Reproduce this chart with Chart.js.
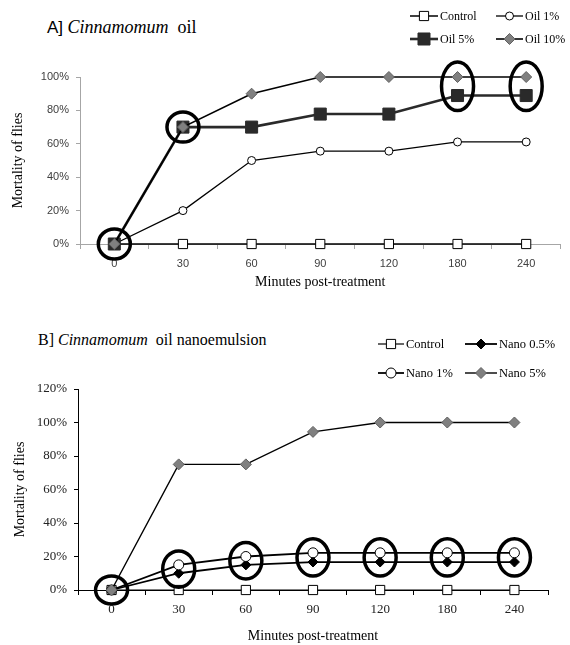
<!DOCTYPE html>
<html>
<head>
<meta charset="utf-8">
<script src="https://cdn.jsdelivr.net/npm/chart.js@4.4.1/dist/chart.umd.min.js"></script>
<style>
  html, body { margin: 0; padding: 0; background: #fff; }
  body { width: 570px; height: 645px; position: relative; overflow: hidden; }
  canvas { position: absolute; left: 0; }
  #cA { top: 0; }
  #cB { top: 305px; }
  .ttl { position: absolute; white-space: pre; color: #000; font-family: "Liberation Serif", serif; }
  #tA { left: 47px; top: 18px; font-size: 18px; line-height: 18px; }
  #tA .lab { font-family: "Liberation Sans", sans-serif; font-size: 17px; }
  #tB { left: 38px; top: 332px; font-size: 16px; line-height: 16px; }
  i { font-style: italic; }
</style>
</head>
<body>
<div class="ttl" id="tA"><span class="lab">A]</span> <i>Cinnamomum</i>  oil</div>
<div class="ttl" id="tB">B] <i>Cinnamomum</i>  oil nanoemulsion</div>
<canvas id="cA" width="570" height="305"></canvas>
<canvas id="cB" width="570" height="340"></canvas>
<script>
// ---------- data ----------
const categories = ['0', '30', '60', '90', '120', '180', '240'];

const seriesNamesA = ['Control', 'Oil 1%', 'Oil 5%', 'Oil 10%'];
const controlA = [0, 0, 0, 0, 0, 0, 0];
const oil1 = [0, 20, 50, 55.6, 55.6, 61.1, 61.1];
const oil5 = [0, 70, 70, 77.8, 77.8, 88.9, 88.9];
const oil10 = [0, 70, 90, 100, 100, 100, 100];
const yTicksA = [0, 20, 40, 60, 80, 100];

const seriesNamesB = ['Control', 'Nano 0.5%', 'Nano 1%', 'Nano 5%'];
const controlB = [0, 0, 0, 0, 0, 0, 0];
const nano05 = [0, 10, 15, 16.7, 16.7, 16.7, 16.7];
const nano1 = [0, 15, 20, 22.2, 22.2, 22.2, 22.2];
const nano5 = [0, 75, 75, 94.4, 100, 100, 100];
const yTicksB = [0, 20, 40, 60, 80, 100, 120];

// highlighted points (category, series circled)
const ringsA = [
  { at: '0', around: ['Oil 10%'] },
  { at: '30', around: ['Oil 5%', 'Oil 10%'] },
  { at: '180', around: ['Oil 5%', 'Oil 10%'] },
  { at: '240', around: ['Oil 5%', 'Oil 10%'] }
];
const ringsB = [
  { at: '0', around: ['Nano 5%'] },
  { at: '30', around: ['Nano 0.5%', 'Nano 1%'] },
  { at: '60', around: ['Nano 0.5%', 'Nano 1%'] },
  { at: '90', around: ['Nano 0.5%', 'Nano 1%'] },
  { at: '120', around: ['Nano 0.5%', 'Nano 1%'] },
  { at: '180', around: ['Nano 0.5%', 'Nano 1%'] },
  { at: '240', around: ['Nano 0.5%', 'Nano 1%'] }
];

// ---------- helpers ----------
function drawMarker(ctx, style, r, x, y, fill, stroke, bw) {
  ctx.save();
  ctx.beginPath();
  if (style === 'rect') {
    const s = Math.SQRT1_2 * r;
    ctx.rect(x - s, y - s, 2 * s, 2 * s);
  } else if (style === 'rectRot') {
    ctx.moveTo(x - r, y); ctx.lineTo(x, y - r); ctx.lineTo(x + r, y); ctx.lineTo(x, y + r); ctx.closePath();
  } else {
    ctx.arc(x, y, r, 0, Math.PI * 2);
  }
  ctx.fillStyle = fill; ctx.fill();
  ctx.lineWidth = bw; ctx.strokeStyle = stroke; ctx.stroke();
  ctx.restore();
}

const legendPlugin = {
  id: 'customLegend',
  afterDraw(chart, args, opts) {
    const ctx = chart.ctx;
    chart.data.datasets.forEach((ds, i) => {
      const x = opts.cols[i % 2];
      const y = opts.rows[Math.floor(i / 2)];
      const len = opts.lineLen[i % 2];
      ctx.save();
      ctx.beginPath();
      ctx.moveTo(x, y); ctx.lineTo(x + len, y);
      ctx.lineWidth = ds.borderWidth; ctx.strokeStyle = ds.borderColor; ctx.stroke();
      drawMarker(ctx, ds.pointStyle, ds.pointRadius * opts.markerScale, x + len / 2, y,
        ds.pointBackgroundColor, ds.pointBorderColor, ds.pointBorderWidth);
      ctx.fillStyle = '#000';
      ctx.font = opts.font;
      ctx.textBaseline = 'middle';
      ctx.textAlign = 'left';
      ctx.fillText(ds.label, x + len + 2, y + 1);
      ctx.restore();
    });
  }
};

const ringPlugin = {
  id: 'rings',
  afterDatasetsDraw(chart, args, opts) {
    const ctx = chart.ctx;
    const xs = chart.scales.x, ys = chart.scales.y;
    opts.rings.forEach(rg => {
      const idx = chart.data.labels.indexOf(rg.at);
      const px = xs.getPixelForValue(idx);
      const pys = rg.around.map(name => {
        const ds = chart.data.datasets.find(d => d.label === name);
        return ys.getPixelForValue(ds.data[idx]);
      });
      const top = Math.min(...pys), bot = Math.max(...pys);
      const cy = (top + bot) / 2;
      const ry = (bot - top) / 2 + opts.padY;
      ctx.save();
      ctx.beginPath();
      ctx.ellipse(px, cy, opts.padX, ry, 0, 0, Math.PI * 2);
      ctx.lineWidth = opts.width; ctx.strokeStyle = '#000'; ctx.stroke();
      ctx.restore();
    });
  }
};

function ds(label, data, o) {
  return Object.assign({
    label, data, clip: false, fill: false, tension: 0,
    borderColor: '#000', borderWidth: 1.5,
    pointBorderColor: '#000', pointBorderWidth: 1,
    pointHoverRadius: 0
  }, o);
}

function makeChart(id, cfg) {
  return new Chart(document.getElementById(id), {
    type: 'line',
    data: { labels: categories, datasets: cfg.datasets },
    plugins: [legendPlugin, ringPlugin],
    options: {
      responsive: false, animation: false, devicePixelRatio: 1,
      layout: { padding: cfg.padding },
      events: [],
      plugins: {
        legend: { display: false }, tooltip: { enabled: false }, title: { display: false },
        customLegend: cfg.legend,
        rings: cfg.rings
      },
      scales: {
        x: {
          type: 'category', offset: true,
          grid: { offset: true, drawOnChartArea: false, tickLength: 5, color: cfg.axisColor, lineWidth: 1 },
          border: { display: true, color: cfg.axisColor, width: 1 },
          ticks: { color: cfg.tickColor, font: cfg.tickFont, padding: cfg.xTickPad, maxRotation: 0, autoSkip: false },
          title: { display: true, text: 'Minutes post-treatment', color: '#000',
                   font: { family: 'Liberation Serif', size: 14 }, padding: { top: 0, bottom: cfg.xTitlePad } },
          afterFit: s => { s.height = cfg.xHeight; }
        },
        y: {
          min: 0, max: cfg.yMax,
          afterBuildTicks: s => { s.ticks = cfg.yTicks.map(v => ({ value: v })); },
          grid: { drawOnChartArea: false, tickLength: 4, color: cfg.axisColor, lineWidth: 1 },
          border: { display: true, color: cfg.axisColor, width: 1 },
          ticks: { color: cfg.tickColor, font: cfg.tickFont, padding: 7, callback: v => v + '%' },
          title: { display: true, text: 'Mortality of flies', color: '#000',
                   font: { family: 'Liberation Serif', size: 14 }, padding: { top: cfg.yTitlePad, bottom: 0 } },
          afterFit: s => { s.width = cfg.yWidth; }
        }
      }
    }
  });
}

// ---------- chart A ----------
makeChart('cA', {
  datasets: [
    ds(seriesNamesA[0], controlA, { pointStyle: 'rect', pointRadius: 6.5, pointBackgroundColor: '#fff', order: 3 }),
    ds(seriesNamesA[1], oil1, { pointStyle: 'circle', pointRadius: 4, pointBackgroundColor: '#fff', borderWidth: 1.3, order: 2 }),
    ds(seriesNamesA[2], oil5, { pointStyle: 'rect', pointRadius: 8.5, pointBackgroundColor: '#2a2a2a', pointBorderColor: '#2a2a2a', borderColor: '#2a2a2a', borderWidth: 2.6, order: 1 }),
    ds(seriesNamesA[3], oil10, { pointStyle: 'rectRot', pointRadius: 5.5, pointBackgroundColor: '#808080', pointBorderColor: '#606060', borderWidth: 1.6, order: 0 })
  ],
  padding: { top: 77, right: 5, left: 0, bottom: 0 },
  yWidth: 80, xHeight: 61, yMax: 100, yTicks: yTicksA,
  axisColor: '#a6a6a6', tickColor: '#404040',
  tickFont: { family: 'Liberation Sans', size: 11 },
  xTickPad: 8, xTitlePad: 14, yTitlePad: 10,
  legend: { cols: [410, 496], rows: [16, 39], lineLen: [28, 27], markerScale: 1, font: '12px "Liberation Serif"' },
  rings: { rings: ringsA, padX: 16, padY: 15, width: 3.5 }
});

// ---------- chart B ----------
makeChart('cB', {
  datasets: [
    ds(seriesNamesB[0], controlB, { pointStyle: 'rect', pointRadius: 6.5, pointBackgroundColor: '#fff', borderWidth: 1.2, order: 3 }),
    ds(seriesNamesB[1], nano05, { pointStyle: 'rectRot', pointRadius: 5, pointBackgroundColor: '#000', borderWidth: 1.8, order: 2 }),
    ds(seriesNamesB[2], nano1, { pointStyle: 'circle', pointRadius: 5, pointBackgroundColor: '#fff', borderWidth: 1.8, order: 1 }),
    ds(seriesNamesB[3], nano5, { pointStyle: 'rectRot', pointRadius: 5.5, pointBackgroundColor: '#808080', pointBorderColor: '#606060', borderWidth: 1.4, order: 0 })
  ],
  padding: { top: 84, right: 22, left: 0, bottom: 0 },
  yWidth: 78, xHeight: 55, yMax: 120, yTicks: yTicksB,
  axisColor: '#000', tickColor: '#222',
  tickFont: { family: 'Liberation Serif', size: 13 },
  xTickPad: 7, xTitlePad: 0, yTitlePad: 12,
  legend: { cols: [378, 465], rows: [39, 68], lineLen: [26, 32], markerScale: 1, font: '12.5px "Liberation Serif"' },
  rings: { rings: ringsB, padX: 16, padY: 14, width: 3.5 }
});
</script>
</body>
</html>
